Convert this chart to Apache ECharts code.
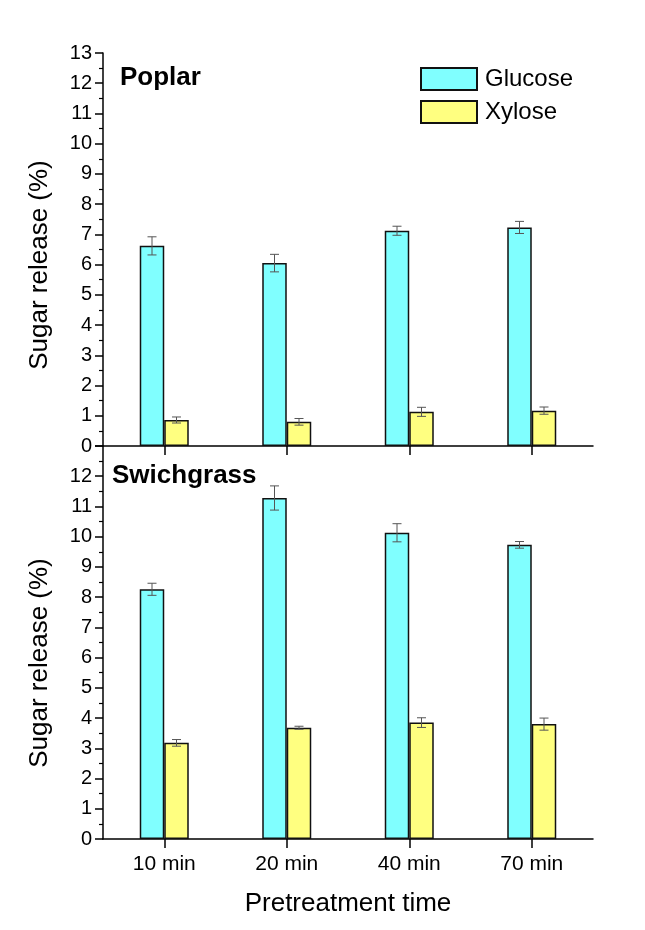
<!DOCTYPE html>
<html><head><meta charset="utf-8">
<script src="https://cdn.jsdelivr.net/npm/echarts@6/dist/echarts.min.js"></script>
<style>html,body{margin:0;padding:0;background:#fff}#c{width:645px;height:930px}</style>
</head><body><div id="c"></div>
<script>
var categories = ['10 min', '20 min', '40 min', '70 min'];
var poplarGlucose = [6.62, 6.05, 7.12, 7.23];
var poplarGlucoseErr = [0.30, 0.29, 0.15, 0.20];
var poplarXylose = [0.86, 0.80, 1.13, 1.17];
var poplarXyloseErr = [0.10, 0.11, 0.15, 0.12];
var grassGlucose = [8.26, 11.28, 10.13, 9.73];
var grassGlucoseErr = [0.20, 0.40, 0.30, 0.11];
var grassXylose = [3.18, 3.68, 3.85, 3.80];
var grassXyloseErr = [0.11, 0.05, 0.16, 0.20];
var yTicks = [0,1,2,3,4,5,6,7,8,9,10,11,12,13];

var FONT = '"Liberation Sans", Arial, sans-serif';
var BW = 24.5;
var chart = echarts.init(document.getElementById('c'));

function errSeries(name, vals, errs, gi, side) {
  return {
    type: 'custom', name: name, xAxisIndex: gi, yAxisIndex: gi, z: 5,
    data: vals.map(function (v, i) { return [i, v, errs[i]]; }),
    renderItem: function (params, api) {
      var i = api.value(0), v = api.value(1), e = api.value(2);
      var hi = api.coord([i, v + e]), lo = api.coord([i, v - e]);
      var x = hi[0] + side * BW / 2;
      var st = { stroke: '#555', lineWidth: 1 };
      return { type: 'group', children: [
        { type: 'line', shape: { x1: x, y1: hi[1], x2: x, y2: lo[1] }, style: st },
        { type: 'line', shape: { x1: x - 4.5, y1: hi[1], x2: x + 4.5, y2: hi[1] }, style: st },
        { type: 'line', shape: { x1: x - 4.5, y1: lo[1], x2: x + 4.5, y2: lo[1] }, style: st }
      ]};
    }
  };
}
function barSeries(name, vals, gi, color) {
  return { type: 'bar', name: name, xAxisIndex: gi, yAxisIndex: gi, data: vals,
    barWidth: BW, barGap: '0%', z: 2,
    itemStyle: { color: color, borderColor: '#111', borderWidth: 1.5 } };
}
function yAxis(gi, hideTop) {
  return { type: 'value', gridIndex: gi, min: yTicks[0], max: yTicks[yTicks.length - 1], interval: 1,
    axisLine: { show: true, lineStyle: { color: '#000', width: 1.5 } },
    axisTick: { show: true, inside: false, length: 8, lineStyle: { color: '#000', width: 1.5 } },
    minorTick: { show: true, splitNumber: 2, length: 4, lineStyle: { color: '#000', width: 1.2 } },
    splitLine: { show: false },
    axisLabel: { fontFamily: FONT, fontSize: 20, color: '#000', margin: 11,
      formatter: function (v) { return (hideTop && v === 13) ? '' : String(v); } } };
}
function xAxis(gi, showLabel) {
  var ax = { type: 'category', gridIndex: gi, data: categories,
    axisLine: { show: true, onZero: false, lineStyle: { color: '#000', width: 1.5 } },
    axisTick: { show: true, alignWithLabel: true, length: 9, lineStyle: { color: '#000', width: 1.5 } },
    axisLabel: { show: showLabel, fontFamily: FONT, fontSize: 21, color: '#000', margin: 15 } };
  if (showLabel) {
    ax.name = 'Pretreatment time'; ax.nameLocation = 'middle'; ax.nameGap = 52;
    ax.nameTextStyle = { fontFamily: FONT, fontSize: 26, color: '#000' };
  }
  return ax;
}

chart.setOption({
  animation: false,
  backgroundColor: '#fff',
  grid: [
    { left: 103, top: 53, width: 490, height: 393 },
    { left: 103, top: 446, width: 490, height: 393 }
  ],
  xAxis: [xAxis(0, false), xAxis(1, true)],
  yAxis: [yAxis(0, false), yAxis(1, true)],
  legend: { data: ['Glucose', 'Xylose'], orient: 'vertical', left: 415, top: 62,
    itemWidth: 56, itemHeight: 22, itemGap: 9, icon: 'rect',
    textStyle: { fontFamily: FONT, fontSize: 24, color: '#000', padding: [0, 0, 0, 3] } },
  graphic: [
    { type: 'text', left: 120, top: 65, style: { text: 'Poplar', font: 'bold 26px ' + FONT, fill: '#000' } },
    { type: 'text', left: 112, top: 463, style: { text: 'Swichgrass', font: 'bold 26px ' + FONT, fill: '#000' } },
    { type: 'text', x: 40, y: 265, rotation: Math.PI / 2,
      style: { text: 'Sugar release (%)', font: '26px ' + FONT, fill: '#000', align: 'center', verticalAlign: 'middle' } },
    { type: 'text', x: 40, y: 663, rotation: Math.PI / 2,
      style: { text: 'Sugar release (%)', font: '26px ' + FONT, fill: '#000', align: 'center', verticalAlign: 'middle' } }
  ],
  series: [
    barSeries('Glucose', poplarGlucose, 0, '#80FFFF'),
    barSeries('Xylose', poplarXylose, 0, '#FFFF80'),
    barSeries('Glucose', grassGlucose, 1, '#80FFFF'),
    barSeries('Xylose', grassXylose, 1, '#FFFF80'),
    errSeries('err1', poplarGlucose, poplarGlucoseErr, 0, -1),
    errSeries('err2', poplarXylose, poplarXyloseErr, 0, 1),
    errSeries('err3', grassGlucose, grassGlucoseErr, 1, -1),
    errSeries('err4', grassXylose, grassXyloseErr, 1, 1)
  ]
});
</script></body></html>
